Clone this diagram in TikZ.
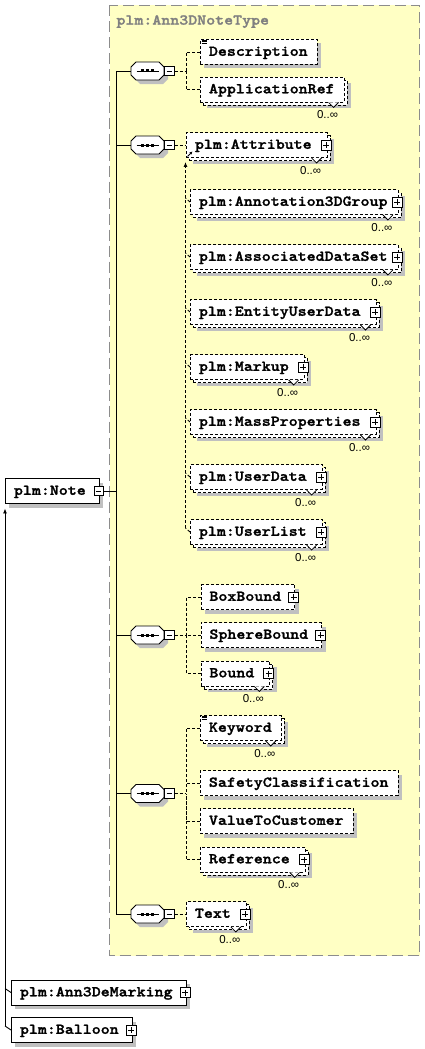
\documentclass[tikz,border=0pt]{standalone}
\usepackage{fontspec}
\usetikzlibrary{arrows.meta,calc}
\newfontfamily\xmono{lmmonolt10-bold.otf}[FakeStretch=1.14,FakeBold=1.6]
\newfontfamily\xsans{Liberation Sans}
\newcommand\elfont{\xmono\fontsize{15pt}{17pt}\selectfont}
\newcommand\mlfont{\xsans\fontsize{11.5pt}{13pt}\selectfont}
\definecolor{bgyellow}{HTML}{FFFFC4}
\definecolor{bordergray}{HTML}{8C8C8C}
\definecolor{titlegray}{HTML}{808080}
\definecolor{shadowgray}{HTML}{C0C0C0}
\tikzset{
  elbox/.style={draw=black, fill=white, anchor=west, font=\elfont, inner xsep=8.5pt, inner ysep=0pt,
    minimum height=25pt, text height=7.6pt, text depth=0pt},
  optel/.style={dash pattern=on 3pt off 2pt},
  optline/.style={dash pattern=on 3pt off 2pt},
  single/.style={preaction={fill=shadowgray, draw=none, transform canvas={shift={(4pt,-4pt)}}}},
  multi/.style={preaction={fill=shadowgray, draw=none, transform canvas={shift={(7pt,-6pt)}}},
    preaction={draw=black, fill=white, transform canvas={shift={(3pt,-3pt)}}}},
  kidsm/.style={execute at end node={\hspace*{7pt}}},
  kidss/.style={execute at end node={\hspace*{5pt}}},
  leaf/.style={execute at end node={\hspace*{1pt}}},
  plusb/.style={draw=black, fill=white, solid, line width=0.9pt, minimum size=10pt, inner sep=0pt,
    path picture={\draw[line width=0.8pt] ([xshift=2pt]path picture bounding box.west) -- ([xshift=-2pt]path picture bounding box.east)
      ([yshift=-2pt]path picture bounding box.north) -- ([yshift=2pt]path picture bounding box.south);}},
  minusb/.style={draw=black, fill=white, solid, line width=0.9pt, minimum size=9.5pt, inner sep=0pt,
    path picture={\draw[line width=0.8pt] ([xshift=2pt]path picture bounding box.west) -- ([xshift=-2pt]path picture bounding box.east);}},
  mlab/.style={font=\mlfont, inner sep=0pt, text height=8.2pt, text depth=0pt},
  arr/.style={-{Latex[length=5pt,width=4pt]}},
}
\newcommand\seqcomp[3]{%
  \node[inner sep=0pt, minimum width=33pt, minimum height=18pt] (#1) at (#2,#3) {};
  \path[draw=black, fill=white, single] ([xshift=-16.5pt, yshift=4pt]#1.center) -- ++(5pt,5pt) -- ++(23pt,0pt)
    -- ++(5pt,-5pt) -- ++(0pt,-8pt) -- ++(-5pt,-5pt) -- ++(-23pt,0pt) -- ++(-5pt,5pt) -- cycle;
  \draw ([xshift=-11pt]#1.center) -- ([xshift=11pt]#1.center);
  \foreach \dx in {-5,0,5} \fill ([xshift=\dx pt]#1.center) +(-1.5pt,-1.5pt) rectangle +(1.5pt,1.5pt);
  \node[minusb] (#1m) at ([xshift=5pt]#1.east) {};
}
\newcommand\docmark[1]{%
  \draw[line width=0.7pt, solid] ([xshift=1.5pt,yshift=-1pt]#1.north west) -- ++(5pt,0pt)
    ([xshift=1.5pt,yshift=-2.5pt]#1.north west) -- ++(5pt,0pt)
    ([xshift=1.5pt,yshift=-4pt]#1.north west) -- ++(5pt,0pt);}
\begin{document}
\begin{tikzpicture}[x=1pt,y=-1pt,line width=0.9pt]
\useasboundingbox (0,0) rectangle (425,1049);
\fill[white] (0,0) rectangle (425,1049);
% complex type container
\draw[fill=bgyellow, draw=bordergray, dash pattern=on 11pt off 5pt, line width=1pt] (109.5,5.5) rectangle (419.5,955.5);
\node[anchor=west, font=\elfont, text=titlegray, inner sep=0pt, text height=9.2pt, text depth=0pt] (title) at (116,20) {plm:Ann3DNoteType};

% compositors
\seqcomp{s1}{147.5}{71}
\seqcomp{s2}{147.5}{145}
\seqcomp{s3}{147.5}{635}
\seqcomp{s4}{147.5}{793.5}
\seqcomp{s5}{147.5}{914}

% elements
\node[elbox, optel, single, leaf] (desc) at (200,52) {Description};
\node[elbox, optel, multi, leaf] (appref) at (200,89.5) {ApplicationRef};
\node[elbox, optel, multi, kidsm] (attr) at (186,145) {plm:Attribute};
\node[elbox, optel, multi, kidsm] (annot) at (190,202) {\makebox[184pt][l]{plm:Annotation3DGroup}};
\node[elbox, optel, multi, kidsm] (assoc) at (190,257) {\makebox[184pt][l]{plm:AssociatedDataSet}};
\node[elbox, optel, multi, kidsm] (entity) at (190,312) {plm:EntityUserData};
\node[elbox, optel, multi, kidsm] (markup) at (190,367) {plm:Markup};
\node[elbox, optel, multi, kidsm] (mass) at (190,422) {plm:MassProperties};
\node[elbox, optel, multi, kidsm] (udata) at (190,477) {plm:UserData};
\node[elbox, optel, multi, kidsm] (ulist) at (190,532) {plm:UserList};
\node[elbox, optel, single, kidss] (boxb) at (200.5,597) {BoxBound};
\node[elbox, optel, single, kidss] (sphb) at (200.5,635) {SphereBound};
\node[elbox, optel, multi, kidsm] (bound) at (200.5,673.5) {Bound};
\node[elbox, optel, multi, leaf] (keyw) at (200,728) {Keyword};
\node[elbox, optel, single, leaf] (safety) at (200,783) {SafetyClassification};
\node[elbox, optel, single, leaf] (value) at (200,821) {ValueToCustomer};
\node[elbox, optel, multi, kidsm] (refer) at (200,859.5) {Reference};
\node[elbox, optel, multi, kidsm] (text) at (186,914) {Text};
\node[elbox, single, kidss] (note) at (5,491) {plm:Note};
\node[elbox, single, kidss] (ann) at (11,992.5) {plm:Ann3DeMarking};
\node[elbox, single, kidss] (balloon) at (11,1030) {plm:Balloon};

% expand / collapse boxes
\foreach \n in {attr,annot,assoc,entity,markup,mass,udata,ulist,boxb,sphb,bound,refer,text,ann,balloon}
  \node[plusb] (\n-p) at ([xshift=-1.5pt]\n.east) {};
\node[minusb] (note-m) at ([xshift=-1pt]note.east) {};

% multiplicity marks
\foreach \n in {appref,attr,annot,assoc,entity,markup,mass,udata,ulist,bound,keyw,refer,text}{
  \draw[solid, fill=white, line width=0.8pt] ([xshift=-16pt]\n.south east) -- ++(5pt,-5pt) -- ++(5pt,5pt);
  \node[mlab] (\n-mult) at ([xshift=-17pt,yshift=-12pt]\n.south east) {0..∞};
}
\docmark{desc}
\docmark{keyw}
% reference arrow in plm:Attribute
\draw[solid, line width=0.8pt, -{Latex[length=3pt,width=3pt]}] ([xshift=1.5pt,yshift=1.5pt]attr.south west) -- ++(5pt,5pt);

% main spine
\coordinate (sp) at (116,0);
\draw (s1.west -| sp) -- (s5.west -| sp);
\foreach \s in {s1,s2,s3,s4,s5} \draw (\s.west) -- (\s.west -| sp);
\draw (note-m.east) -- (note-m.east -| sp);

% sequence connectors
\coordinate (j1) at (186,71);
\draw[optline] (s1m.east) -- (j1);
\draw[optline] (desc.west) -| (j1);
\draw[optline] (appref.west) -| (j1);
\draw[optline] (s2m.east) -- (attr.west);
\coordinate (j3) at (186,635);
\draw[optline] (s3m.east) -- (j3);
\draw[optline] (boxb.west) -| (j3);
\draw[optline] (sphb.west) -- (j3);
\draw[optline] (bound.west) -| (j3);
\coordinate (j4) at (186,793.5);
\draw[optline] (s4m.east) -- (j4);
\draw[optline] (keyw.west) -| (j4);
\draw[optline] (safety.west) -| (j4);
\draw[optline] (value.west) -| (j4);
\draw[optline] (refer.west) -| (j4);
\draw[optline] (s5m.east) -- (text.west);

% substitution group of plm:Attribute
\coordinate (subtop) at ([xshift=-0.5pt,yshift=-4pt]attr.south west);
\coordinate (subbot) at ([xshift=-4.5pt,yshift=4pt]ulist.west);
\draw[optline, arr] (subbot) -- (subtop);
\foreach \n in {annot,assoc,entity,markup,mass,udata,ulist}
  \draw[optline] (\n.west) -- ([xshift=-4.5pt,yshift=4pt]\n.west);

% substitution group of plm:Note
\coordinate (notetip) at ([yshift=-4.5pt]note.south west);
\coordinate (notebot) at ([xshift=-6pt,yshift=4pt]balloon.west);
\draw[arr] (notebot) -- (notetip);
\draw (ann.west) -- ([xshift=-6pt,yshift=4pt]ann.west);
\draw (balloon.west) -- (notebot);
\end{tikzpicture}
\end{document}
